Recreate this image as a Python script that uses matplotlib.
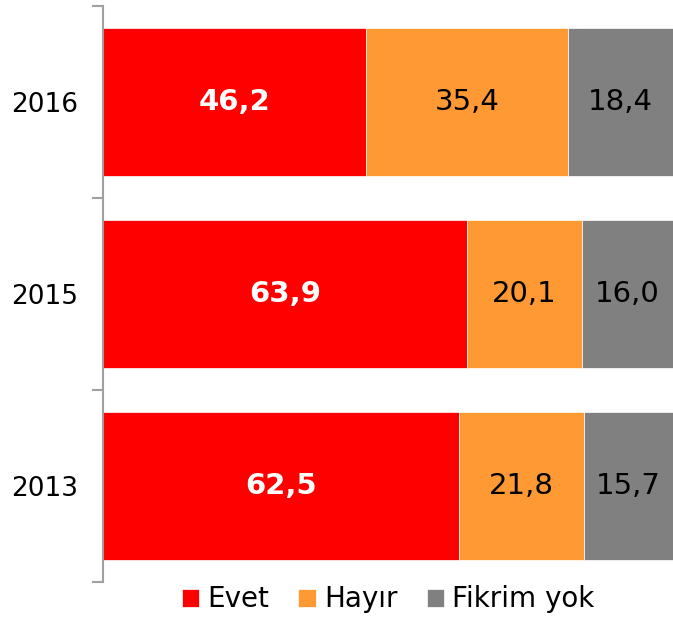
import numpy as np
import matplotlib.pyplot as plt

years = ['2013', '2015', '2016']
evet = [62.5, 63.9, 46.2]
hayir = [21.8, 20.1, 35.4]
fikrim_yok = [15.7, 16.0, 18.4]

series = [('Evet', evet, '#ff0000'),
          ('Hayır', hayir, '#ff9933'),
          ('Fikrim yok', fikrim_yok, '#808080')]

plt.rcParams['font.family'] = ['Verdana', 'DejaVu Sans']

fig = plt.figure(figsize=(6.73, 6.18), dpi=100)
ax = fig.add_axes([103 / 673, 36 / 618, 570 / 673, 576 / 618])

y = np.arange(len(years))
left = np.zeros(len(years))
for name, vals, color in series:
    vals = np.array(vals)
    ax.barh(y, vals, left=left, height=0.77, color=color, label=name,
            edgecolor='white', linewidth=0.5)
    for yi, l, v in zip(y, left, vals):
        txt = f'{v:.1f}'.replace('.', ',')
        if name == 'Evet':
            ax.text(l + v / 2, yi, txt, ha='center', va='center',
                    color='white', fontsize=21, fontweight='bold')
        else:
            ax.text(l + v / 2, yi, txt, ha='center', va='center',
                    color='black', fontsize=21)
    left += vals

ax.set_xlim(0, 100)
ax.set_ylim(-0.5, 2.5)
ax.set_yticks(y)
ax.set_yticklabels(years, fontsize=19)
ax.set_yticks([-0.5, 0.5, 1.5, 2.5], minor=True)
ax.tick_params(axis='y', which='major', length=0, pad=18)
ax.tick_params(axis='y', which='minor', length=8, width=1.5, color='#a0a0a0')
ax.set_xticks([])
for s in ['top', 'right', 'bottom']:
    ax.spines[s].set_visible(False)
ax.spines['left'].set_color('#a0a0a0')
ax.spines['left'].set_linewidth(1.5)

ax.legend(loc='upper center', bbox_to_anchor=(0.5, -0.001), ncol=3, frameon=False,
          fontsize=20, handlelength=0.62, handleheight=0.62, handletextpad=0.3,
          columnspacing=1.05, borderaxespad=0.0, borderpad=0.1)

fig.savefig('out.png', dpi=100)
